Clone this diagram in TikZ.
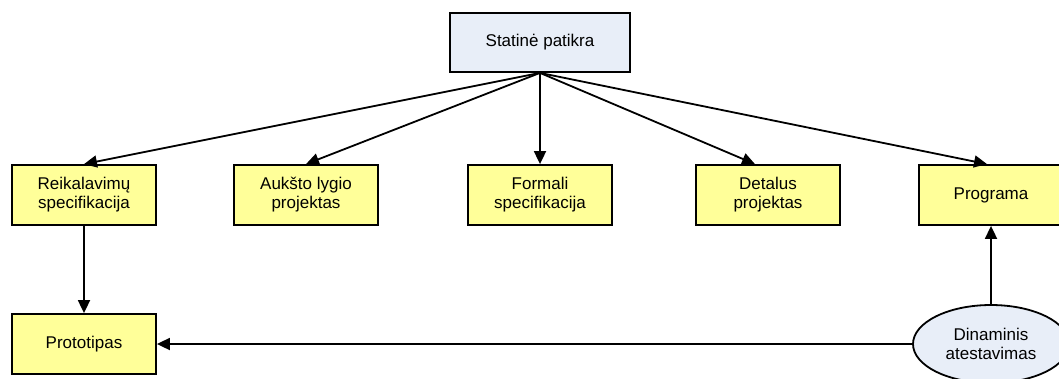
\documentclass[tikz,border=0pt]{standalone}
\usepackage{fontspec}
\setmainfont{Liberation Sans}
\usetikzlibrary{arrows.meta,shapes.geometric}
\definecolor{boxyellow}{RGB}{255,255,153}
\definecolor{boxblue}{RGB}{232,238,248}
\begin{document}
\begin{tikzpicture}[x=1pt,y=-1pt,
  every node/.style={font=\fontsize{17}{19}\selectfont, align=center, inner sep=0pt},
  phase/.style={draw=black, line width=1.8pt, fill=boxyellow, minimum width=144pt, minimum height=60pt},
  checkbox/.style={draw=black, line width=1.8pt, fill=boxblue, minimum width=180pt, minimum height=59pt},
  oval/.style={ellipse, draw=black, line width=1.8pt, fill=boxblue, minimum width=156pt, minimum height=78pt},
  link/.style={line width=1.8pt, -{Triangle[length=13pt,width=12pt]}}]
\useasboundingbox (0,0) rectangle (1059,378);
\node[checkbox] (stat) at (540,42.5) {Statinė patikra};
\node[phase] (req) at (84,195) {Reikalavimų\\specifikacija};
\node[phase] (high) at (306,195) {Aukšto lygio\\projektas};
\node[phase] (form) at (540,195) {Formali\\specifikacija};
\node[phase] (det) at (768,195) {Detalus\\projektas};
\node[phase] (prog) at (991,195) {Programa};
\node[phase] (proto) at (84,344) {Prototipas};
\node[oval] (dyn) at (991,344) {Dinaminis\\atestavimas};
\draw[link] (stat.south) -- (req.north);
\draw[link] (stat.south) -- (high.north);
\draw[link] (stat.south) -- (form.north);
\draw[link] (stat.south) -- ([xshift=-13pt]det.north);
\draw[link] (stat.south) -- ([xshift=-4pt]prog.north);
\draw[link] (req.south) -- (proto.north);
\draw[link] (dyn.west) -- (proto.east);
\draw[link] (dyn.north) -- (prog.south);
\end{tikzpicture}
\end{document}
